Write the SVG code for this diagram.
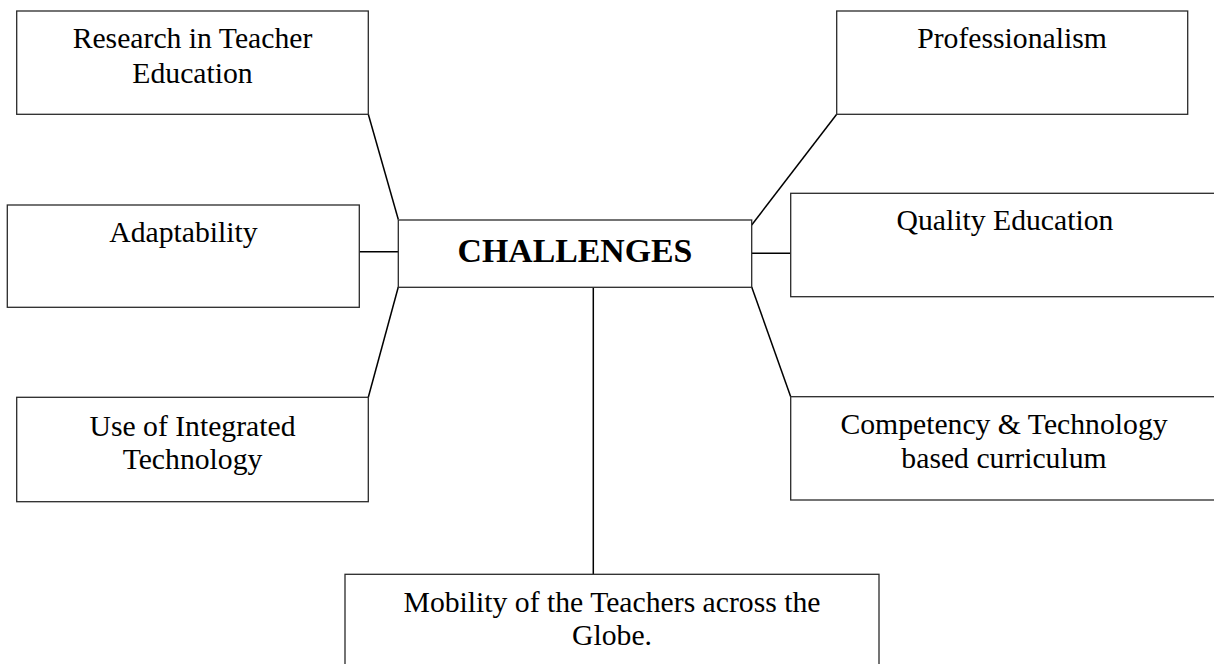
<svg xmlns="http://www.w3.org/2000/svg" width="1214" height="664" viewBox="0 0 1214 664">
<style>
.box{fill:#fff;stroke:#2a2a2a;stroke-width:1.3}
.t{font-family:"Liberation Serif","Times New Roman",serif;font-size:29.7px;fill:#000;text-anchor:middle}
.b{font-family:"Liberation Serif","Times New Roman",serif;font-size:33.8px;font-weight:bold;fill:#000;text-anchor:middle}
.c{stroke:#000;stroke-width:1.5;fill:none}
</style>
<rect width="1214" height="664" fill="#fff"/>
<g id="connectors">
<line class="c" x1="368.3" y1="114.3" x2="398.3" y2="219.5"/>
<line class="c" x1="359.3" y1="251.7" x2="400.5" y2="251.7"/>
<line class="c" x1="398.3" y1="287" x2="368.3" y2="397.3"/>
<line class="c" x1="836.7" y1="114.3" x2="751.7" y2="225"/>
<line class="c" x1="751.7" y1="253.3" x2="790.7" y2="253.3"/>
<line class="c" x1="751.7" y1="287" x2="790.7" y2="396.7"/>
<line class="c" x1="593.3" y1="287.3" x2="593.3" y2="574.3"/>
</g>
<g id="research">
<rect class="box" x="16.7" y="11" width="351.6" height="103.3"/>
<text class="t" x="192.5" y="47.7">Research in Teacher</text>
<text class="t" x="192.5" y="82.7">Education</text>
</g>
<g id="professionalism">
<rect class="box" x="836.7" y="11" width="351" height="103.3"/>
<text class="t" x="1012" y="48">Professionalism</text>
</g>
<g id="adaptability">
<rect class="box" x="7.3" y="205" width="352" height="102.3"/>
<text class="t" x="183.5" y="241.7">Adaptability</text>
</g>
<g id="challenges">
<rect class="box" x="398.3" y="220" width="353.4" height="67.3"/>
<text class="b" x="575" y="261.7">CHALLENGES</text>
</g>
<g id="quality">
<rect class="box" x="790.7" y="193.3" width="430" height="103.4"/>
<text class="t" x="1005" y="230">Quality Education</text>
</g>
<g id="integrated">
<rect class="box" x="16.7" y="397.3" width="351.6" height="104.4"/>
<text class="t" x="192.5" y="436">Use of Integrated</text>
<text class="t" x="192.5" y="469">Technology</text>
</g>
<g id="competency">
<rect class="box" x="790.7" y="396.7" width="430" height="103.3"/>
<text class="t" x="1004" y="434">Competency &amp; Technology</text>
<text class="t" x="1004" y="468">based curriculum</text>
</g>
<g id="mobility">
<rect class="box" x="345" y="574.3" width="534" height="100"/>
<text class="t" x="612" y="611.7">Mobility of the Teachers across the</text>
<text class="t" x="612" y="645">Globe.</text>
</g>
</svg>
